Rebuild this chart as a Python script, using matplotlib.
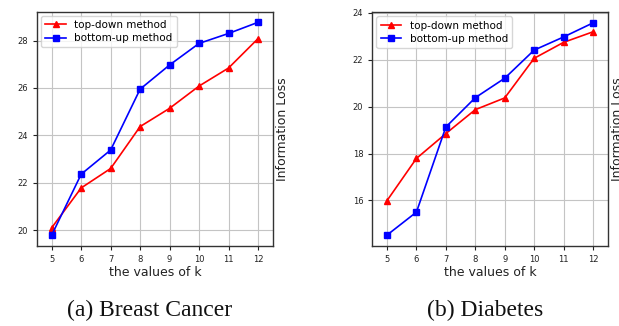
import matplotlib
matplotlib.use("Agg")
import matplotlib.pyplot as plt

k_values = [5, 6, 7, 8, 9, 10, 11, 12]

bc_top_down = [20.1, 21.78, 22.6, 24.37, 25.14, 26.08, 26.84, 28.08]
bc_bottom_up = [19.79, 22.36, 23.38, 25.95, 26.97, 27.88, 28.3, 28.77]

db_top_down = [15.99, 17.79, 18.85, 19.87, 20.37, 22.06, 22.74, 23.19]
db_bottom_up = [14.52, 15.5, 19.13, 20.38, 21.21, 22.41, 22.97, 23.57]

captions = ["(a) Breast Cancer", "(b) Diabetes"]
legend_labels = ["top-down method", "bottom-up method"]
xlabel = "the values of k"
ylabel = "Information Loss"

W, H = 619, 326
fig = plt.figure(figsize=(W / 100, H / 100), dpi=100)

def px_axes(x0, y0, x1, y1):
    return [x0 / W, (H - y1) / H, (x1 - x0) / W, (y1 - y0) / H]

axes_px = [(37, 11.7, 272.7, 245.7), (372.3, 12.3, 607.7, 245.7)]
datasets = [(bc_top_down, bc_bottom_up), (db_top_down, db_bottom_up)]
caption_x = [150, 485.5]
ylabel_x = [282, 617.5]

for i, (box, (td, bu)) in enumerate(zip(axes_px, datasets)):
    ax = fig.add_axes(px_axes(*box))
    ax.plot(k_values, td, color="red", marker="^", markersize=5, linewidth=1.2,
            label=legend_labels[0])
    ax.plot(k_values, bu, color="blue", marker="s", markersize=5, linewidth=1.2,
            label=legend_labels[1])
    ax.set_xlim(4.5, 12.5)
    ax.set_xticks(k_values)
    ax.grid(True, color="#c4c4c4", linewidth=0.8)
    ax.set_axisbelow(True)
    ax.tick_params(labelsize=6, length=3, width=0.8, colors="#222222")
    for sp in ax.spines.values():
        sp.set_color("#333333")
        sp.set_linewidth(1.0)
    ax.set_xlabel(xlabel, fontsize=9, color="#222222")
    ax.xaxis.set_label_coords(0.5, -0.088)
    ax.legend(loc="upper left", fontsize=7.5, handlelength=2.0,
              borderpad=0.4, labelspacing=0.3, handletextpad=0.8,
              borderaxespad=0.4)
    fig.text(ylabel_x[i] / W, 1 - 129 / H, ylabel, rotation=90, ha="center",
             va="center", fontsize=9, color="#222222")
    fig.text(caption_x[i] / W, 1 - 310 / H, captions[i], ha="center", va="center",
             fontsize=17, family="Liberation Serif", color="#111111")

fig.savefig("out.png", dpi=100)
